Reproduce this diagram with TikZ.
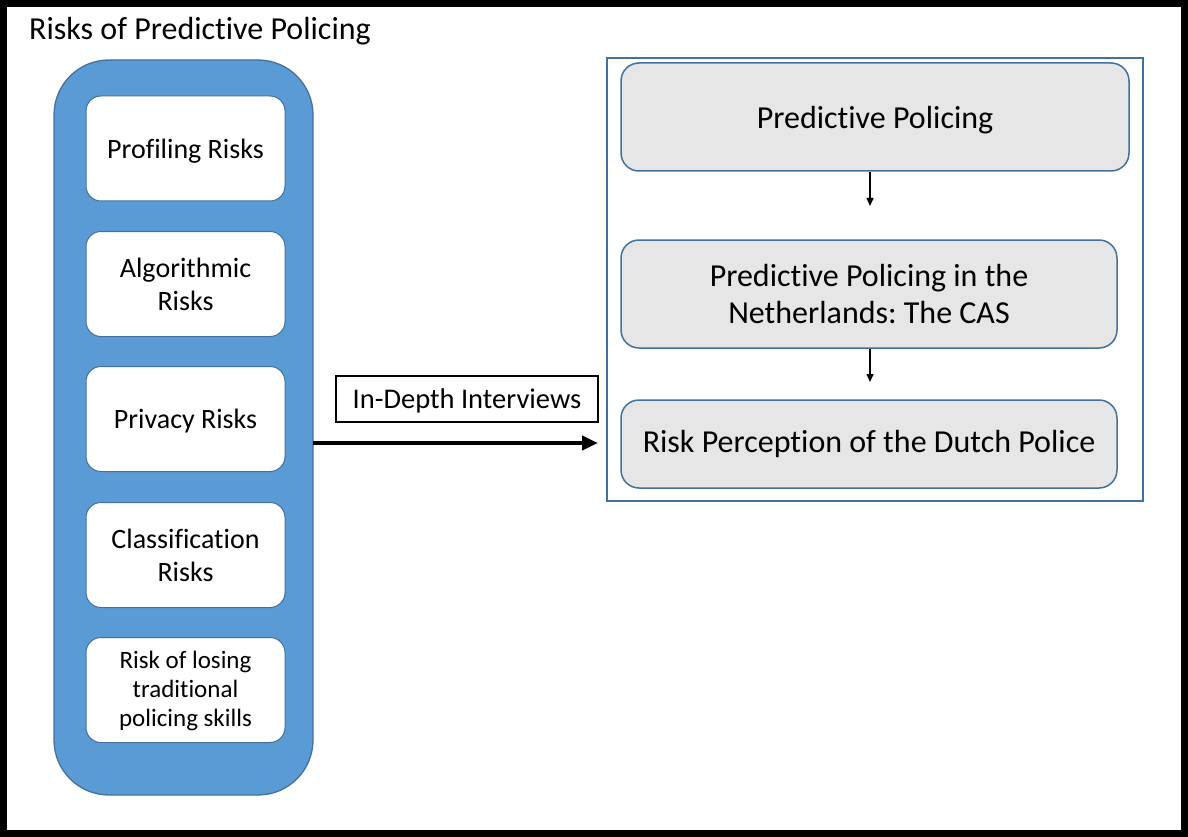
\documentclass[tikz,border=0pt]{standalone}
\usepackage{fontspec}
\setmainfont[Ligatures=NoCommon]{Carlito}
\usetikzlibrary{arrows.meta}
\definecolor{cblue}{HTML}{5B9BD5}
\definecolor{cedge}{HTML}{41719C}
\definecolor{cgray}{HTML}{E7E6E6}
\frenchspacing
\begin{document}
\begin{tikzpicture}[x=1pt,y=-1pt,
  riskbox/.style={draw=cedge,line width=1pt,fill=white,rounded corners=15pt,minimum width=199pt,minimum height=105pt,align=center,inner sep=0pt,font=\fontsize{28}{33}\selectfont},
  graybox/.style={draw=cedge,line width=1.5pt,fill=cgray,rounded corners=18pt,align=center,inner sep=0pt,font=\fontsize{32}{37}\selectfont},
  oneline/.style={text height=#1,text depth=0pt},
  smallarrow/.style={-{Triangle[length=8pt,width=7pt]},line width=1.3pt}]
\useasboundingbox (0,0) rectangle (1188,837);
\fill[white] (0,0) rectangle (1188,837);
\draw[line width=7pt] (3.5,3.5) rectangle (1184.5,833.5);
\node[anchor=base west,font=\fontsize{32}{36}\selectfont,inner sep=0pt] (title) at (29,39.7) {Risks of Predictive Policing};
% left container
\draw[draw=cedge,line width=1.3pt,fill=cblue,rounded corners=55pt] (54,60) rectangle (313,795);
\node (container) at (183.5,427.5) [minimum width=259pt,minimum height=735pt,inner sep=0pt] {};
\node[riskbox,oneline=19.6pt] (r1) at (185.5,148.5) {Profiling Risks};
\node[riskbox] (r2) at (185.5,284) {Algorithmic\\Risks};
\node[riskbox,oneline=18.6pt] (r3) at (185.5,419) {Privacy Risks};
\node[riskbox] (r4) at (185.5,555) {Classification\\Risks};
\node[riskbox,minimum height=105pt,font=\fontsize{25}{29}\selectfont] (r5) at (185.5,690) {\rule{0pt}{20pt}Risk of losing\\traditional\\policing skills};
% right frame
\draw[draw=cedge,line width=1.5pt] (607,58) rectangle (1143,501);
\node[graybox,oneline=22.6pt,minimum width=508pt,minimum height=108pt] (g1) at (875,117) {Predictive Policing};
\node[graybox,minimum width=496pt,minimum height=108pt] (g2) at (869,294) {Predictive Policing in the\\Netherlands: The CAS};
\node[graybox,oneline=16.6pt,minimum width=496pt,minimum height=88pt] (g3) at (869,444) {Risk Perception of the Dutch Police};
\draw[smallarrow] (g1.south -| 870,0) -- (870,206);
\draw[smallarrow] (g2.south -| 870,0) -- (870,382);
% interview
\node[draw,oneline=19.4pt,line width=1.5pt,minimum width=262pt,minimum height=46pt,inner sep=0pt,font=\fontsize{28.5}{32}\selectfont] (iv) at (467,399) {In-Depth Interviews};
\coordinate (as) at (313,443);
\coordinate (ae) at (598,443);
\draw[-{Triangle[length=16pt,width=14pt]},line width=4pt] (as) -- (ae);
\end{tikzpicture}
\end{document}
